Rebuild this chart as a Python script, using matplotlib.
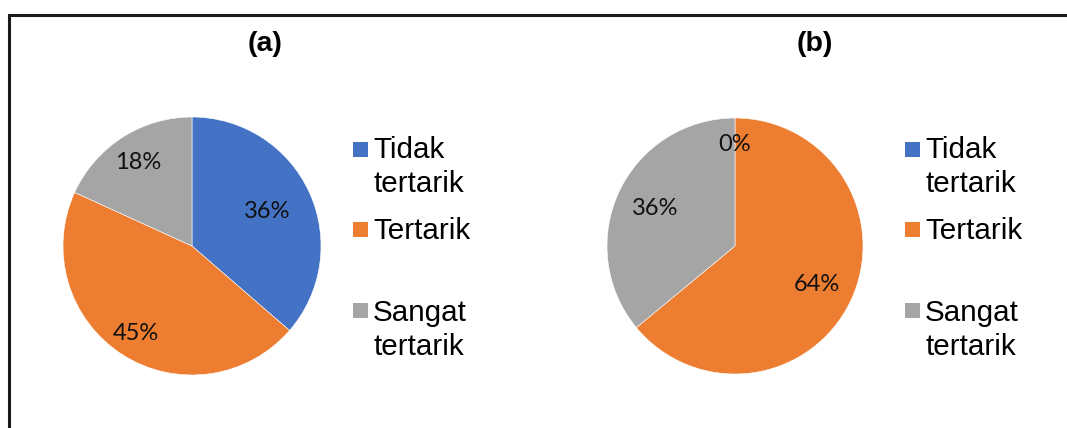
import matplotlib
matplotlib.use("Agg")
import matplotlib.pyplot as plt
from matplotlib.patches import Rectangle
import numpy as np

# ---- data ----
categories = ["Tidak tertarik", "Tertarik", "Sangat tertarik"]
titles = ["(a)", "(b)"]
values_a = [36, 45, 18]
values_b = [0, 64, 36]
colors = ["#4472C4", "#ED7D31", "#A5A5A5"]

W, H = 1067, 428
fig = plt.figure(figsize=(W / 100, H / 100), dpi=100)
fig.patch.set_facecolor("white")

def fx(px):
    return px / W

def fy(py):
    return 1 - py / H

# border
fig.add_artist(Rectangle((fx(9), fy(460)), fx(1100), (460 - 15) / H,
                         transform=fig.transFigure, fill=False,
                         edgecolor="#1a1a1a", linewidth=2.2))

panels = [
    dict(vals=values_a, title=titles[0], cx=192, cy=246, r=129, tx=265,
         lx=353, dist=[0.64, 0.81, 0.77]),
    dict(vals=values_b, title=titles[1], cx=735, cy=246, r=128, tx=815,
         lx=905, dist=[0.79, 0.71, 0.69]),
]

label_font = ["Lato", "DejaVu Sans"]
text_font = ["Liberation Sans", "DejaVu Sans"]

for p in panels:
    r = p["r"]
    ax = fig.add_axes([fx(p["cx"] - r), (H - p["cy"] - r) / H, 2 * r / W, 2 * r / H])
    wedges, _ = ax.pie(p["vals"], colors=colors, startangle=90, counterclock=False,
                       radius=1, wedgeprops=dict(edgecolor="white", linewidth=0.4))
    ax.set_xlim(-1, 1)
    ax.set_ylim(-1, 1)
    ax.set_aspect("equal")
    ax.axis("off")
    total = sum(p["vals"])
    for w, v, d in zip(wedges, p["vals"], p["dist"]):
        ang = np.deg2rad((w.theta1 + w.theta2) / 2)
        ax.text(d * np.cos(ang), d * np.sin(ang), f"{round(v / total * 100)}%",
                ha="center", va="center", fontsize=17, family=label_font,
                color="#111111")
    fig.text(fx(p["tx"]), fy(44), p["title"], ha="center", va="center",
             fontsize=20.5, fontweight="bold", family=text_font)

    # legend
    marker_tops = [142, 222, 303]
    baselines = [158, 239, 321]
    for cat, col, mt, bl in zip(categories, colors, marker_tops, baselines):
        fig.add_artist(Rectangle((fx(p["lx"]), fy(mt + 15)), fx(15), 15 / H,
                                 transform=fig.transFigure, facecolor=col,
                                 edgecolor="none"))
        words = cat.split(" ")
        lines = [words[0], " ".join(words[1:])] if len(words) > 1 else [cat]
        for i, ln in enumerate(lines):
            fig.text(fx(p["lx"] + 20), fy(bl + 34 * i), ln, ha="left",
                     va="baseline", fontsize=21.3, family=text_font, color="black")

fig.savefig("out.png", dpi=100, facecolor="white")
